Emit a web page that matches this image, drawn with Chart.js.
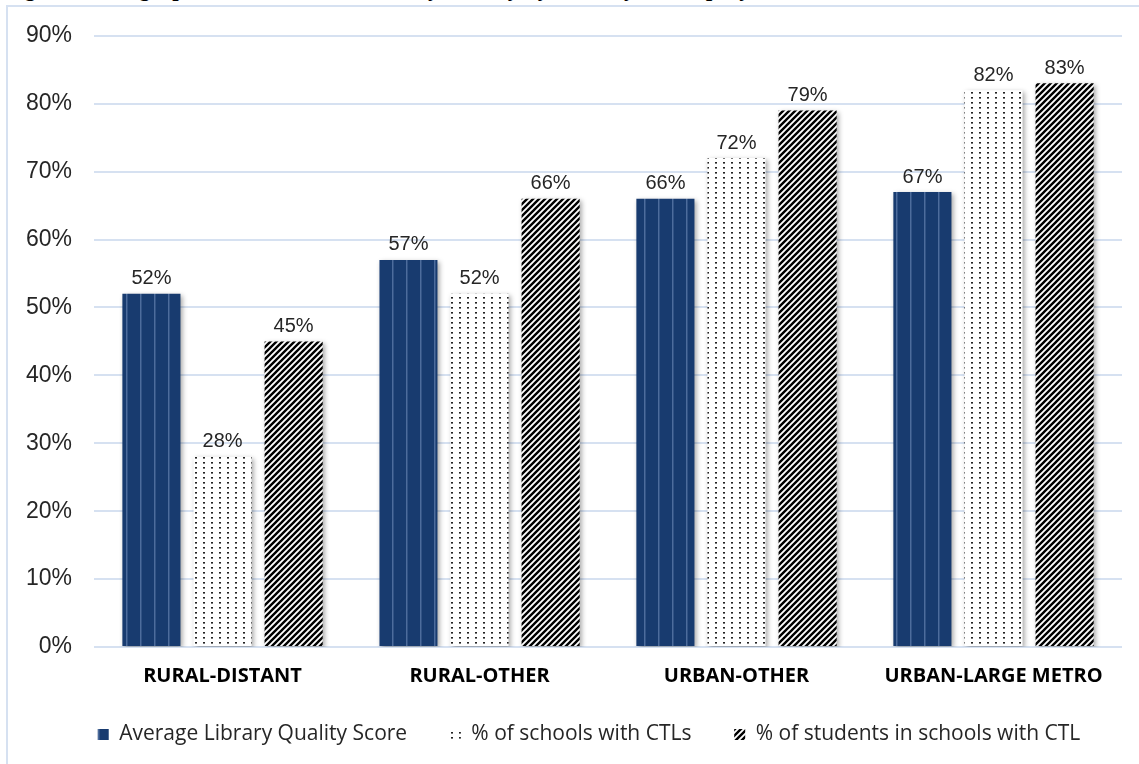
<!DOCTYPE html>
<html lang="en">
<head>
    <meta charset="UTF-8">
    <title>Library Quality by Locale</title>
    <script src="https://cdn.jsdelivr.net/npm/chart.js"></script>
    <style>
        html, body { margin: 0; padding: 0; background: #fff; }
        body { width: 1139px; height: 764px; position: relative; overflow: hidden; }
        .caption {
            position: absolute; left: 4px; top: -24px; white-space: nowrap;
            font: bold 23px "Liberation Serif", "DejaVu Serif", serif; color: #000;
        }
        .frame {
            position: absolute; left: 6px; top: 5px; right: 0; bottom: 0;
            border-top: 2px solid #d6e1f1; border-left: 2px solid #d6e1f1; background: #fff;
        }
        #wrap { position: absolute; left: 0; top: 0; width: 1139px; height: 764px; }
    </style>
</head>
<body>
    <div class="caption">Figure 6: Geographic Differences in Library Quality by Locality and Equity</div>
    <div class="frame"></div>
    <div id="wrap"><canvas id="localeChart"></canvas></div>

    <script>
    // locale groups and the three measures, in percent
    const locales = ['RURAL-DISTANT', 'RURAL-OTHER', 'URBAN-OTHER', 'URBAN-LARGE METRO'];
    const qualityScore = [52, 57, 66, 67];
    const schoolsWithCTL = [28, 52, 72, 82];
    const studentsWithCTL = [45, 66, 79, 83];
    const seriesNames = ['Average Library Quality Score', '% of schools with CTLs', '% of students in schools with CTL'];
    const yTicks = [0, 10, 20, 30, 40, 50, 60, 70, 80, 90];

    const SANS = '"Open Sans", sans-serif';
    const ARIAL = '"Liberation Sans", Arial, sans-serif';

    function tile(w, h, paint) {
        const c = document.createElement('canvas');
        c.width = w; c.height = h;
        paint(c.getContext('2d'));
        return document.createElement('canvas').getContext('2d').createPattern(c, 'repeat');
    }

    // navy with thin lighter vertical stripes
    const navyPattern = tile(14, 4, g => {
        g.fillStyle = '#183b6f';
        g.fillRect(0, 0, 14, 4);
        g.fillStyle = '#4d6c9c';
        g.fillRect(0, 0, 1.5, 4);
    });

    // sparse black dots on white
    const dotPattern = tile(8, 5, g => {
        g.fillStyle = '#fff';
        g.fillRect(0, 0, 8, 5);
        g.fillStyle = '#222';
        g.fillRect(3, 2, 2, 1.6);
    });

    // black forward-diagonal hatch
    const hatchPattern = tile(6, 6, g => {
        g.fillStyle = '#fff';
        g.fillRect(0, 0, 6, 6);
        g.strokeStyle = '#000';
        g.lineWidth = 2.4;
        g.beginPath();
        g.moveTo(-1, 7); g.lineTo(7, -1);
        g.moveTo(-1, 1); g.lineTo(1, -1);
        g.moveTo(5, 7); g.lineTo(7, 5);
        g.stroke();
    });

    // soft drop shadow behind the bars
    const barShadow = {
        id: 'barShadow',
        beforeDatasetsDraw(chart) {
            const ctx = chart.ctx;
            ctx.save();
            ctx.shadowColor = 'rgba(0,0,0,0.35)';
            ctx.shadowBlur = 5;
            ctx.shadowOffsetX = 2;
            ctx.shadowOffsetY = 2;
        },
        afterDatasetsDraw(chart) {
            chart.ctx.restore();
        }
    };

    // percentage written above every bar
    const valueLabels = {
        id: 'valueLabels',
        afterDatasetsDraw(chart) {
            const ctx = chart.ctx;
            ctx.save();
            ctx.font = '20px ' + ARIAL;
            ctx.fillStyle = '#262626';
            ctx.textAlign = 'center';
            ctx.textBaseline = 'bottom';
            chart.data.datasets.forEach((ds, i) => {
                chart.getDatasetMeta(i).data.forEach((bar, j) => {
                    ctx.fillText(ds.data[j] + '%', bar.x, bar.y - 5);
                });
            });
            ctx.restore();
        }
    };

    // push the legend row a little lower and to the right
    const legendNudge = {
        id: 'legendNudge',
        afterLayout(chart) {
            const lg = chart.legend;
            lg.left += 26; lg.right += 26;
            lg.top += 9; lg.bottom += 9;
        }
    };

    const fills = [navyPattern, dotPattern, hatchPattern];
    const values = [qualityScore, schoolsWithCTL, studentsWithCTL];
    const gap = '      ';

    new Chart(document.getElementById('localeChart'), {
        type: 'bar',
        data: {
            labels: locales,
            datasets: values.map((v, i) => ({
                label: seriesNames[i],
                data: v,
                backgroundColor: fills[i],
                borderWidth: 0,
                categoryPercentage: 0.83,
                barPercentage: 0.817
            }))
        },
        options: {
            responsive: true,
            maintainAspectRatio: false,
            animation: false,
            layout: { padding: { top: 25, left: 4, right: 17, bottom: 18 } },
            plugins: {
                title: { display: false },
                tooltip: { enabled: false },
                legend: {
                    position: 'bottom',
                    labels: {
                        boxWidth: 11,
                        boxHeight: 11,
                        padding: 10,
                        color: '#262626',
                        font: { family: SANS, size: 21 },
                        generateLabels(chart) {
                            const items = Chart.defaults.plugins.legend.labels.generateLabels(chart);
                            items.forEach((it, i) => {
                                if (i < items.length - 1) it.text += gap;
                            });
                            return items;
                        }
                    }
                }
            },
            scales: {
                x: {
                    grid: { display: false, drawTicks: false },
                    border: { display: false },
                    ticks: {
                        color: '#000',
                        padding: 17,
                        font: { family: SANS, size: 20, weight: 'bold' }
                    }
                },
                y: {
                    min: yTicks[0],
                    max: yTicks[yTicks.length - 1],
                    afterBuildTicks(axis) {
                        axis.ticks = yTicks.map(v => ({ value: v }));
                    },
                    grid: { color: '#d6e1f1', lineWidth: 2, drawTicks: false },
                    border: { display: false },
                    ticks: {
                        color: '#262626',
                        padding: 22,
                        font: { family: ARIAL, size: 23 },
                        callback: v => v + '%'
                    }
                }
            }
        },
        plugins: [barShadow, valueLabels, legendNudge]
    });
    </script>
</body>
</html>
